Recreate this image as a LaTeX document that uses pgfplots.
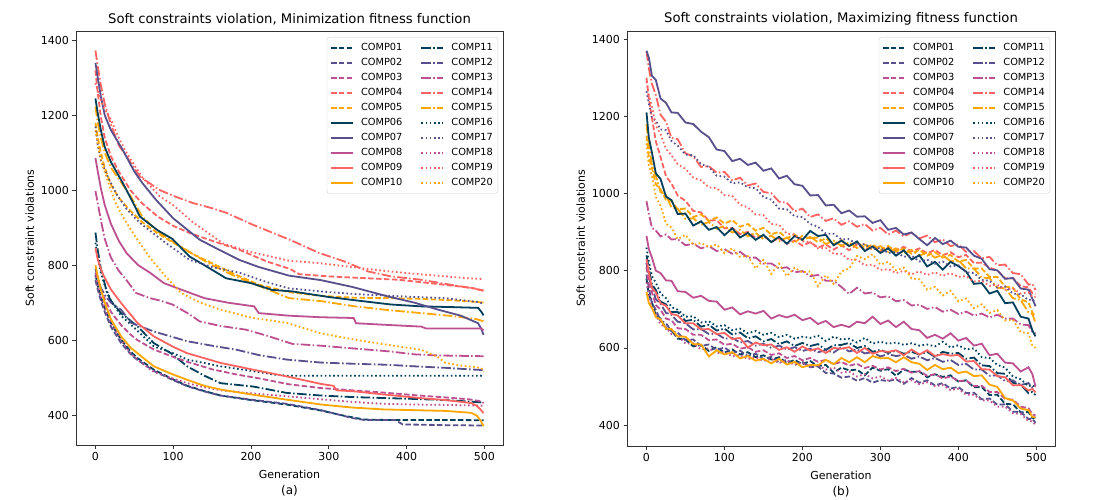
\documentclass[border=0pt]{standalone}
\usepackage{fontspec}
\setmainfont{DejaVu Sans}
\usepackage{pgfplots}
\pgfplotsset{compat=1.18}
\usepackage{pgfplotstable}

\definecolor{cA}{HTML}{003F5C}
\definecolor{cB}{HTML}{58508D}
\definecolor{cC}{HTML}{BC5090}
\definecolor{cD}{HTML}{FF6361}
\definecolor{cE}{HTML}{FFA600}

% Maximizing fitness function: best soft-constraint violations per generation
\pgfplotstableread{
g c01 c02 c03 c04 c05 c06 c07 c08 c09 c10 c11 c12 c13 c14 c15 c16 c17 c18 c19 c20
0 780 790 810 1300 1150 1210 1370 890 830 745 840 820 980 1368 1180 860 1265 770 1290 1130
3 738 757 766 1245 1094 1145 1352 856 795 716 805 781 948 1324 1125 824 1234 739 1256 1072
7 718 715 744 1195 1066 1106 1305 834 755 704 765 759 911 1284 1074 786 1196 701 1224 1046
12 684 699 711 1135 1024 1052 1294 800 744 680 750 726 904 1255 1046 769 1189 686 1176 992
18 676 670 699 1095 1011 1038 1246 794 716 674 720 714 889 1204 1004 741 1166 661 1154 968
25 650 664 676 1045 984 992 1235 775 709 650 713 691 894 1186 996 729 1164 654 1116 922
32 646 643 672 1026 981 983 1210 774 688 649 693 686 881 1144 964 706 1136 636 1099 912
40 624 640 651 995 959 947 1209 747 684 630 693 668 882 1141 961 699 1124 632 1076 882
50 622 620 649 981 961 948 1184 745 664 629 670 664 866 1104 934 681 1101 611 1064 893
60 604 622 634 955 939 917 1180 730 664 610 673 648 870 1096 936 682 1099 612 1041 867
70 608 605 634 951 946 928 1160 735 648 609 655 649 858 1069 919 666 1076 596 1034 872
80 592 609 620 930 929 906 1146 722 649 578 660 636 864 1071 926 669 1069 599 1016 862
90 602 595 622 931 938 913 1114 720 636 594 645 637 851 1054 909 656 1046 586 1014 868
100 588 601 608 910 922 892 1110 699 639 583 650 624 856 1056 916 659 1044 590 996 846
110 596 587 611 911 931 910 1084 705 623 589 635 626 844 1034 899 646 1026 578 994 858
120 583 593 598 895 914 886 1090 687 626 573 640 614 849 1041 906 650 1029 582 971 836
130 589 579 602 901 921 898 1074 695 601 579 625 618 834 1021 889 638 1016 571 964 838
140 576 585 590 885 904 880 1080 689 614 567 630 606 834 1026 898 644 1014 576 946 806
150 581 571 594 891 911 893 1059 696 607 572 617 611 818 1004 882 634 991 566 944 828
160 570 577 582 875 894 874 1065 676 609 560 623 600 819 1001 891 639 984 572 921 792
170 576 563 586 884 901 888 1039 685 595 572 610 606 806 979 876 628 961 561 919 818
180 561 569 574 870 884 870 1046 679 602 557 617 596 809 976 886 634 959 567 896 786
190 569 557 579 878 894 890 1024 686 590 564 605 602 796 954 872 624 941 556 894 808
200 558 564 568 865 879 880 1020 672 604 550 613 592 799 961 891 629 939 562 876 796
210 566 550 574 874 888 903 995 678 593 556 605 598 786 939 884 626 921 551 874 798
220 553 552 564 860 874 890 996 662 599 555 610 589 789 946 886 632 914 556 858 760
230 556 535 569 868 884 893 969 670 587 569 595 594 774 929 869 618 896 544 859 788
240 536 534 558 855 869 866 971 654 600 558 607 588 774 936 878 629 896 549 844 766
250 549 523 564 866 879 878 949 660 598 574 608 602 758 919 864 622 881 536 844 798
260 542 526 554 853 864 864 956 654 602 563 613 591 740 928 874 624 882 539 828 806
270 544 515 559 868 874 876 940 668 587 576 600 596 756 914 859 614 868 526 829 838
280 529 522 548 855 859 851 941 664 600 563 605 586 741 921 868 626 869 532 814 830
290 549 510 554 864 868 863 924 681 585 579 590 589 744 904 854 611 856 521 816 843
300 541 517 544 850 854 846 931 662 592 573 595 578 731 911 864 616 859 526 802 816
310 545 514 550 861 864 858 906 671 590 574 587 584 734 894 849 611 846 516 804 823
320 528 519 540 853 849 839 911 654 594 563 593 579 721 904 858 614 849 522 794 801
330 544 507 546 862 858 853 894 668 581 576 585 582 724 889 844 608 836 511 800 808
340 538 522 536 850 844 829 899 649 596 563 590 572 710 899 854 612 839 516 791 780
350 539 510 540 858 854 840 882 646 583 559 583 578 712 884 839 606 824 506 798 778
360 524 516 528 845 839 811 866 626 594 543 590 568 701 891 848 609 829 511 789 751
370 532 503 532 854 848 823 885 634 579 556 577 574 706 874 834 604 818 501 796 758
380 525 509 521 840 834 803 869 624 584 545 590 564 694 881 841 616 824 504 787 736
390 529 495 526 848 841 823 878 638 580 549 585 569 699 864 824 601 811 491 794 748
400 513 499 514 835 824 812 862 619 582 535 587 556 688 868 828 607 814 494 784 721
410 516 483 516 841 828 798 860 626 565 539 572 559 694 849 806 596 796 479 786 728
420 498 484 501 820 806 766 839 606 566 527 575 544 684 851 806 599 794 479 772 703
430 499 467 502 821 806 768 831 611 545 529 555 544 689 832 782 576 776 464 774 713
440 478 469 486 808 784 741 804 581 544 505 553 528 679 836 781 574 774 464 761 691
450 479 453 486 801 784 748 801 585 527 499 535 529 686 814 756 556 756 448 764 698
460 455 454 468 780 759 716 779 562 524 470 533 514 676 816 754 549 759 448 751 671
470 454 435 466 781 756 718 781 560 503 464 510 516 676 794 729 526 741 431 754 673
480 433 434 448 760 726 681 754 539 504 443 505 504 661 791 724 519 739 429 741 641
490 434 416 444 757 718 676 751 550 490 439 483 509 659 764 692 501 724 411 744 638
495 418 416 428 742 692 645 727 532 494 421 486 498 642 766 688 504 726 410 732 606
499 420 406 425 740 680 630 708 500 485 420 478 500 638 750 665 498 718 400 732 600
}\maxdata

\pgfplotsset{
  comp01/.style={color=cA, dash pattern=on 5.5pt off 2.4pt},
  comp02/.style={color=cB, dash pattern=on 5.5pt off 2.4pt},
  comp03/.style={color=cC, dash pattern=on 5.5pt off 2.4pt},
  comp04/.style={color=cD, dash pattern=on 5.5pt off 2.4pt},
  comp05/.style={color=cE, dash pattern=on 5.5pt off 2.4pt},
  comp06/.style={color=cA, solid},
  comp07/.style={color=cB, solid},
  comp08/.style={color=cC, solid},
  comp09/.style={color=cD, solid},
  comp10/.style={color=cE, solid},
  comp11/.style={color=cA, dash pattern=on 9.6pt off 2.4pt on 1.5pt off 2.4pt},
  comp12/.style={color=cB, dash pattern=on 9.6pt off 2.4pt on 1.5pt off 2.4pt},
  comp13/.style={color=cC, dash pattern=on 9.6pt off 2.4pt on 1.5pt off 2.4pt},
  comp14/.style={color=cD, dash pattern=on 9.6pt off 2.4pt on 1.5pt off 2.4pt},
  comp15/.style={color=cE, dash pattern=on 9.6pt off 2.4pt on 1.5pt off 2.4pt},
  comp16/.style={color=cA, dash pattern=on 1.6pt off 2.6pt},
  comp17/.style={color=cB, dash pattern=on 1.6pt off 2.6pt},
  comp18/.style={color=cC, dash pattern=on 1.6pt off 2.6pt},
  comp19/.style={color=cD, dash pattern=on 1.6pt off 2.6pt},
  comp20/.style={color=cE, dash pattern=on 1.6pt off 2.6pt},
  panel/.style={
    scale only axis, anchor=south west,
    xmin=-25, xmax=524, xtick={0,100,...,500},
    ytick={400,600,...,1400},
    tick align=outside, xtick pos=bottom, ytick pos=left,
    major tick length=3.5pt,
    every tick/.style={black!80, line width=0.8pt},
    axis line style={black!80, line width=0.8pt},
    tick label style={font=\fontsize{11}{13}\selectfont},
    /pgf/number format/assume math mode=true,
    /pgf/number format/1000 sep={},
    label style={font=\fontsize{11}{13}\selectfont},
    title style={font=\fontsize{13.2}{15}\selectfont, yshift=-4pt},
    xlabel style={align=center, yshift=-3pt},
    ylabel={Soft constraint violations},
    every axis plot post/.append style={line width=1.8pt},
    legend columns=2,
    legend cell align=left,
    legend image code/.code={\draw[##1, line width=2pt] (0pt,0pt) -- (22pt,0pt);},
    legend style={at={(1,1)}, xshift=-5pt, yshift=-6pt, anchor=north east,
      font=\fontsize{9.8}{10}\selectfont, draw=black!20,
      rounded corners=2pt, fill=white, fill opacity=0.8, text opacity=1,
      inner xsep=3pt, inner ysep=4.5pt, row sep=3pt,
      nodes={inner sep=2pt, text height=7pt, text depth=1pt},
      /tikz/every odd column/.append style={column sep=5pt},
      /tikz/every even column/.append style={column sep=16pt}},
  },
}

\begin{document}
\begin{tikzpicture}
\useasboundingbox (0pt,0pt) rectangle (1102pt,499pt);

% Left panel: minimization fitness function
\begin{axis}[panel, at={(76pt,54pt)}, width=427pt, height=414pt,
  ymin=320, ymax=1425,
  title={Soft constraints violation, Minimization fitness function},
  xlabel={Generation\\[3pt]{\fontsize{12}{14}\selectfont (a)}}]
\addplot[comp01] coordinates {(0,775)(3,745)(7,715)(12,685)(20,645)(33,601)(45,570)(54,552)(75,521)(100,495)(118,478)(140,464)(161,452)(200,440)(246,428)(290,412)(320,398)(345,388)(370,387)(450,387)(499,386)};
\addlegendentry{COMP01}
\addplot[comp11] coordinates {(0,887)(3,840)(7,790)(12,750)(15,725)(20,705)(33,672)(54,637)(75,592)(97,565)(118,530)(140,505)(161,485)(203,476)(246,459)(290,452)(330,448)(377,445)(410,443)(450,440)(480,436)(495,434)(499,432)};
\addlegendentry{COMP11}
\addplot[comp02] coordinates {(0,760)(3,735)(7,705)(12,675)(20,635)(33,592)(45,563)(54,547)(75,518)(100,493)(118,477)(140,463)(161,452)(200,441)(246,430)(290,413)(330,392)(345,387)(385,387)(395,375)(450,373)(499,372)};
\addlegendentry{COMP02}
\addplot[comp12] coordinates {(0,790)(3,765)(7,740)(12,720)(20,700)(33,681)(46,646)(75,623)(118,597)(150,585)(182,574)(210,560)(246,548)(290,540)(330,537)(377,534)(410,530)(450,526)(480,522)(499,520)};
\addlegendentry{COMP12}
\addplot[comp03] coordinates {(0,780)(3,760)(7,735)(12,710)(20,675)(33,640)(45,615)(54,600)(75,575)(100,555)(118,542)(150,522)(182,508)(210,498)(249,482)(290,472)(330,466)(370,460)(410,453)(450,447)(480,442)(495,437)(499,432)};
\addlegendentry{COMP03}
\addplot[comp13] coordinates {(0,998)(3,965)(7,920)(12,870)(20,820)(30,785)(40,760)(52,726)(70,712)(84,705)(99,695)(120,670)(134,650)(160,638)(193,628)(220,612)(253,590)(290,585)(330,578)(377,570)(410,562)(440,559)(499,557)};
\addlegendentry{COMP13}
\addplot[comp04] coordinates {(0,1320)(3,1260)(7,1195)(12,1140)(20,1090)(30,1050)(45,1000)(60,965)(80,930)(100,905)(121,886)(150,865)(185,841)(220,810)(250,790)(262,776)(300,770)(350,765)(390,761)(430,752)(460,745)(485,739)(499,732)};
\addlegendentry{COMP04}
\addplot[comp14] coordinates {(0,1373)(3,1330)(7,1280)(12,1230)(20,1175)(30,1120)(40,1090)(57,1037)(82,1001)(100,985)(125,966)(150,952)(168,940)(200,910)(253,865)(287,833)(320,810)(351,783)(380,770)(419,761)(450,750)(480,740)(499,732)};
\addlegendentry{COMP14}
\addplot[comp05] coordinates {(0,1180)(3,1140)(7,1100)(12,1060)(20,1015)(30,980)(45,945)(60,915)(80,885)(100,860)(125,830)(150,805)(180,775)(210,748)(249,728)(290,718)(334,713)(377,712)(419,710)(460,706)(490,702)(499,700)};
\addlegendentry{COMP05}
\addplot[comp15] coordinates {(0,1223)(3,1180)(7,1140)(12,1100)(20,1060)(30,1030)(45,985)(60,930)(80,890)(100,862)(125,830)(150,800)(180,770)(210,745)(249,712)(290,704)(334,690)(377,680)(419,672)(460,664)(490,656)(499,650)};
\addlegendentry{COMP15}
\addplot[comp06] coordinates {(0,1245)(3,1205)(7,1160)(12,1115)(20,1075)(35,1020)(50,960)(57,930)(80,893)(99,870)(121,823)(140,800)(168,765)(200,752)(227,734)(253,730)(300,715)(339,705)(380,695)(419,690)(460,688)(492,686)(496,676)(499,666)};
\addlegendentry{COMP06}
\addplot[comp16] coordinates {(0,860)(3,820)(7,780)(12,745)(20,705)(33,665)(54,625)(75,583)(100,565)(118,548)(161,530)(200,518)(230,508)(246,505)(499,505)};
\addlegendentry{COMP16}
\addplot[comp07] coordinates {(0,1340)(3,1300)(7,1250)(12,1200)(20,1160)(35,1108)(50,1050)(60,1020)(78,974)(100,925)(134,868)(160,840)(185,814)(210,795)(249,772)(290,760)(330,742)(377,716)(410,700)(441,681)(470,665)(492,645)(496,630)(499,614)};
\addlegendentry{COMP07}
\addplot[comp17] coordinates {(0,1170)(3,1120)(7,1080)(15,1040)(27,990)(40,950)(57,913)(90,860)(121,814)(150,795)(185,780)(220,755)(249,738)(300,728)(334,723)(400,716)(450,712)(490,702)(499,698)};
\addlegendentry{COMP17}
\addplot[comp08] coordinates {(0,1086)(3,1050)(7,1005)(12,960)(20,910)(30,865)(40,832)(55,800)(70,780)(88,752)(110,735)(140,712)(170,700)(204,690)(210,672)(250,665)(290,661)(332,659)(335,645)(380,640)(419,636)(425,631)(496,631)(499,626)};
\addlegendentry{COMP08}
\addplot[comp18] coordinates {(0,770)(3,745)(7,715)(12,685)(20,646)(33,600)(45,565)(54,548)(75,515)(100,497)(118,485)(140,474)(161,466)(200,458)(246,450)(290,442)(330,435)(370,430)(410,428)(450,427)(499,425)};
\addlegendentry{COMP18}
\addplot[comp09] coordinates {(0,845)(3,815)(7,790)(11,770)(20,735)(33,699)(54,646)(75,610)(100,582)(118,565)(161,539)(203,521)(246,503)(290,483)(306,478)(310,466)(334,463)(370,455)(419,445)(450,440)(483,432)(490,425)(495,415)(499,405)};
\addlegendentry{COMP09}
\addplot[comp19] coordinates {(0,1286)(3,1265)(7,1240)(12,1215)(18,1197)(30,1140)(40,1100)(60,1035)(82,985)(100,960)(125,915)(164,858)(200,835)(249,812)(290,805)(330,795)(370,785)(410,777)(450,770)(480,765)(499,763)};
\addlegendentry{COMP19}
\addplot[comp10] coordinates {(0,800)(3,770)(7,735)(12,700)(20,655)(33,610)(45,580)(54,565)(75,530)(100,508)(118,494)(140,478)(161,468)(200,455)(246,441)(290,428)(330,420)(370,415)(410,413)(450,411)(483,406)(490,399)(495,386)(499,370)};
\addlegendentry{COMP10}
\addplot[comp20] coordinates {(0,1161)(3,1120)(7,1080)(15,1030)(25,970)(35,930)(50,880)(70,820)(91,768)(110,726)(135,700)(161,681)(200,660)(246,646)(290,618)(334,601)(380,586)(419,574)(440,555)(450,539)(470,532)(496,526)(499,515)};
\addlegendentry{COMP20}
\end{axis}

% Right panel: maximizing fitness function
\begin{axis}[panel, at={(627pt,53pt)}, width=428pt, height=415pt,
  ymin=346, ymax=1421,
  title={Soft constraints violation, Maximizing fitness function},
  xlabel={Generation\\[3pt]{\fontsize{12}{14}\selectfont (b)}}]
\addplot[comp01] table[x=g,y=c01] {\maxdata}; \addlegendentry{COMP01}
\addplot[comp11] table[x=g,y=c11] {\maxdata}; \addlegendentry{COMP11}
\addplot[comp02] table[x=g,y=c02] {\maxdata}; \addlegendentry{COMP02}
\addplot[comp12] table[x=g,y=c12] {\maxdata}; \addlegendentry{COMP12}
\addplot[comp03] table[x=g,y=c03] {\maxdata}; \addlegendentry{COMP03}
\addplot[comp13] table[x=g,y=c13] {\maxdata}; \addlegendentry{COMP13}
\addplot[comp04] table[x=g,y=c04] {\maxdata}; \addlegendentry{COMP04}
\addplot[comp14] table[x=g,y=c14] {\maxdata}; \addlegendentry{COMP14}
\addplot[comp05] table[x=g,y=c05] {\maxdata}; \addlegendentry{COMP05}
\addplot[comp15] table[x=g,y=c15] {\maxdata}; \addlegendentry{COMP15}
\addplot[comp06] table[x=g,y=c06] {\maxdata}; \addlegendentry{COMP06}
\addplot[comp16] table[x=g,y=c16] {\maxdata}; \addlegendentry{COMP16}
\addplot[comp07] table[x=g,y=c07] {\maxdata}; \addlegendentry{COMP07}
\addplot[comp17] table[x=g,y=c17] {\maxdata}; \addlegendentry{COMP17}
\addplot[comp08] table[x=g,y=c08] {\maxdata}; \addlegendentry{COMP08}
\addplot[comp18] table[x=g,y=c18] {\maxdata}; \addlegendentry{COMP18}
\addplot[comp09] table[x=g,y=c09] {\maxdata}; \addlegendentry{COMP09}
\addplot[comp19] table[x=g,y=c19] {\maxdata}; \addlegendentry{COMP19}
\addplot[comp10] table[x=g,y=c10] {\maxdata}; \addlegendentry{COMP10}
\addplot[comp20] table[x=g,y=c20] {\maxdata}; \addlegendentry{COMP20}
\end{axis}
\end{tikzpicture}
\end{document}
